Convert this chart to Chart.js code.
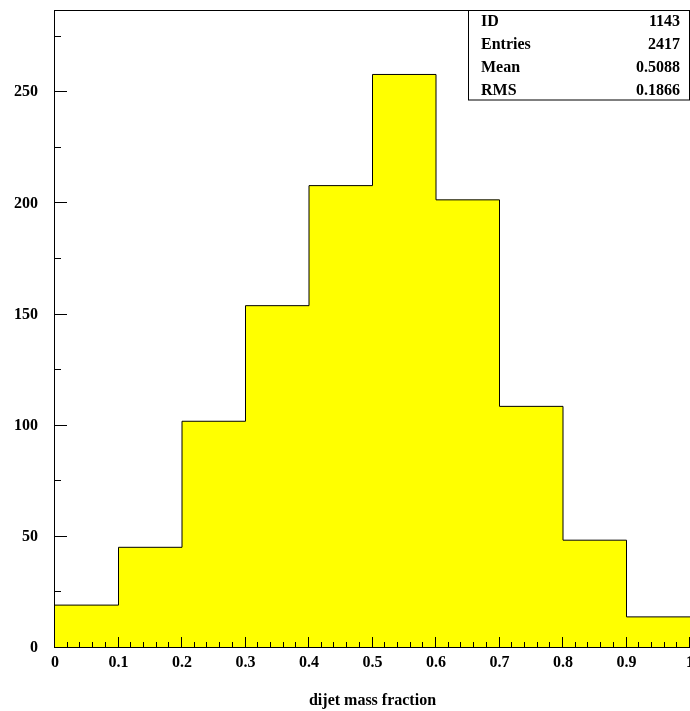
<!DOCTYPE html>
<html><head><meta charset="utf-8">
<script src="https://cdn.jsdelivr.net/npm/chart.js@4/dist/chart.umd.min.js"></script>
<style>html,body{margin:0;padding:0;background:#fff;overflow:hidden}#wrap{position:relative;width:690px;height:711px}</style>
</head><body><div id="wrap"><canvas id="c" width="690" height="711"></canvas></div>
<script>
const binEdges = [0, 0.1, 0.2, 0.3, 0.4, 0.5, 0.6, 0.7, 0.8, 0.9, 1.0];
const binCounts = [19.3, 45.3, 102, 154, 208, 258, 201.6, 108.7, 48.5, 14];
const xAxisTitle = 'dijet mass fraction';
const statLabels = ['ID', 'Entries', 'Mean', 'RMS'];
const statValues = ['1143', '2417', '0.5088', '0.1866'];
const yMax = 287;
const yMajorStep = 50, yMinorStep = 25, xMajorStep = 0.1, xMinorStep = 0.02;

const FONT = "'Liberation Serif', 'Times New Roman', serif";

const stepPoints = binEdges.map((x, i) => ({x: x, y: binCounts[Math.min(i, binCounts.length - 1)]}));

const framePlugin = {
  id: 'frame',
  afterDatasetsDraw(chart) {
    const ctx = chart.ctx;
    const a = chart.chartArea;
    const xs = chart.scales.x, ys = chart.scales.y;
    ctx.save();
    ctx.strokeStyle = '#000';
    ctx.lineWidth = 1;
    ctx.beginPath();
    for (let v = 0; v <= yMax + 1e-9; v += yMinorStep) {
      const major = Math.abs(v / yMajorStep - Math.round(v / yMajorStep)) < 1e-6;
      const len = major ? 12 : 6;
      const py = Math.round(ys.getPixelForValue(v)) - 0.5;
      ctx.moveTo(a.left, py); ctx.lineTo(a.left + len, py);
    }
    const n = Math.round(1 / xMinorStep);
    for (let i = 0; i <= n; i++) {
      const v = i * xMinorStep;
      const major = i % Math.round(xMajorStep / xMinorStep) === 0;
      const len = major ? 11 : 6;
      const px = Math.round(xs.getPixelForValue(v)) - 0.5;
      ctx.moveTo(px, a.bottom); ctx.lineTo(px, a.bottom - len);
    }
    ctx.stroke();
    ctx.strokeRect(a.left - 0.5, a.top + 0.5, a.right - a.left + 1, a.bottom - a.top - 1);
    const bx = 468.5, by = a.top + 0.5, bw = 221, bh = 89.5;
    ctx.fillStyle = '#fff';
    ctx.fillRect(bx, by, bw, bh);
    ctx.strokeRect(bx, by, bw, bh);
    ctx.fillStyle = '#000';
    ctx.font = 'bold 16px ' + FONT;
    ctx.textBaseline = 'alphabetic';
    const baselines = [26, 49, 72, 95];
    statLabels.forEach((lab, i) => {
      ctx.textAlign = 'left';
      ctx.fillText(lab, 481, baselines[i]);
      ctx.textAlign = 'right';
      ctx.fillText(statValues[i], 680, baselines[i]);
    });
    ctx.restore();
  }
};

new Chart(document.getElementById('c'), {
  type: 'line',
  data: {
    datasets: [{
      data: stepPoints,
      stepped: 'before',
      fill: 'origin',
      backgroundColor: '#ffff00',
      borderColor: '#000',
      borderWidth: 1,
      pointRadius: 0,
      tension: 0
    }]
  },
  options: {
    responsive: false,
    animation: false,
    events: [],
    layout: {padding: {top: 10, left: 0, right: 0, bottom: 0}},
    plugins: {legend: {display: false}, tooltip: {enabled: false}},
    scales: {
      x: {
        type: 'linear', min: 0, max: 1,
        grid: {display: false, drawTicks: false},
        border: {display: false},
        ticks: {
          stepSize: xMajorStep, autoSkip: false, maxRotation: 0, padding: 5,
          color: '#000', font: {family: FONT, size: 16, weight: 'bold'},
          callback: v => String(+(+v).toFixed(1))
        },
        title: {display: true, text: xAxisTitle, color: '#000',
          font: {family: FONT, size: 16, weight: 'bold'}, padding: {top: 0, bottom: 1}},
        afterFit: s => { s.height = 63; s.paddingLeft = 0; s.paddingRight = 0; }
      },
      y: {
        type: 'linear', min: 0, max: yMax,
        grid: {display: false, drawTicks: false},
        border: {display: false},
        ticks: {
          stepSize: yMajorStep, includeBounds: false, padding: 17,
          color: '#000', font: {family: FONT, size: 16, weight: 'bold'},
          callback: v => (v % yMajorStep === 0 ? String(v) : '')
        },
        afterFit: s => { s.width = 55; s.paddingTop = 0; s.paddingBottom = 0; }
      }
    }
  },
  plugins: [framePlugin]
});
</script>
</body></html>
